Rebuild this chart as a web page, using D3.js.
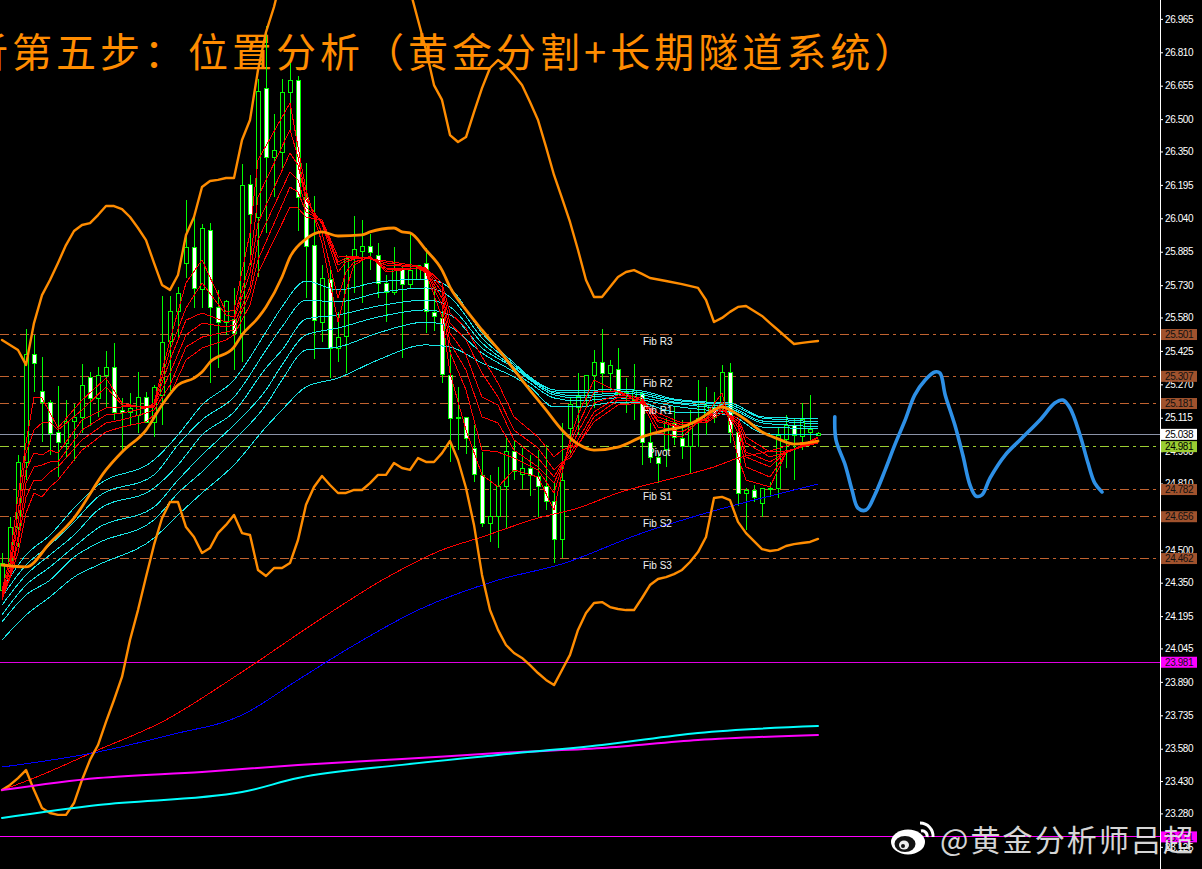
<!DOCTYPE html>
<html><head><meta charset="utf-8">
<style>html,body{margin:0;padding:0;background:#000;overflow:hidden}svg{display:block}</style>
<script src="https://cdnjs.cloudflare.com/ajax/libs/d3/7.8.5/d3.min.js"></script>
</head><body><svg id="c" width="1202" height="869"></svg>
<script>
const titleText = "析第五步：位置分析（黄金分割+长期隧道系统）";
const watermarkText = "@黄金分析师吕超";
const tickValues = [26.965,26.81,26.655,26.5,26.35,26.195,26.04,25.885,25.73,25.58,25.425,25.27,25.115,24.96,24.81,24.655,24.5,24.35,24.195,24.045,23.89,23.735,23.58,23.43,23.28,23.125];
// candle top / bottom of body, highs, lows, direction (1 = up: hollow, 0 = down: white)
const highs = [24.488,24.655,24.942,25.526,25.499,25.397,25.197,25.262,25.197,25.179,25.364,25.327,25.350,25.425,25.462,25.207,25.230,25.327,25.235,25.267,25.680,25.680,25.721,26.125,26.041,26.013,26.018,25.708,25.661,25.717,26.292,26.241,26.686,26.932,26.524,26.686,26.760,26.700,26.296,26.143,25.823,25.800,25.606,25.870,26.051,26.032,25.967,25.925,25.777,25.907,25.814,25.977,25.823,25.902,25.721,25.615,25.429,25.258,25.119,25.082,24.956,24.850,24.887,25.026,25.012,24.975,24.942,24.965,24.989,24.822,25.091,25.207,25.322,25.313,25.429,25.526,25.383,25.438,25.299,25.364,25.235,25.091,24.956,25.114,25.165,25.105,25.151,25.290,25.258,25.235,25.360,25.369,25.049,24.789,24.803,24.789,24.817,25.068,25.128,25.114,25.183,25.221,25.049];
const bodyTops = [24.441,24.609,24.910,25.410,25.410,25.239,25.188,25.049,25.100,25.119,25.267,25.304,25.313,25.350,25.350,25.151,25.160,25.211,25.211,25.258,25.467,25.610,25.694,25.907,25.907,25.995,25.986,25.629,25.656,25.573,26.195,26.199,26.630,26.644,26.357,26.626,26.681,26.681,26.139,25.916,25.763,25.758,25.489,25.856,25.897,25.912,25.912,25.870,25.740,25.805,25.805,25.800,25.823,25.833,25.606,25.578,25.313,25.119,25.119,24.975,24.850,24.659,24.798,24.961,24.961,24.882,24.882,24.845,24.798,24.729,24.826,25.179,25.216,25.313,25.373,25.373,25.360,25.341,25.235,25.244,25.230,25.003,24.933,25.096,25.091,25.021,25.096,25.114,25.174,25.165,25.327,25.327,25.049,24.780,24.780,24.789,24.789,25.035,25.082,25.082,25.110,25.063,25.044];
const bodyBottoms = [24.316,24.441,24.609,24.910,25.369,25.188,25.044,25.003,24.998,25.100,25.119,25.207,25.207,25.313,25.142,25.142,25.142,25.128,25.096,25.096,25.221,25.471,25.610,25.833,25.717,25.712,25.629,25.559,25.559,25.508,25.508,26.060,26.046,26.324,26.324,26.348,26.626,26.139,25.912,25.568,25.559,25.438,25.438,25.494,25.865,25.888,25.884,25.740,25.698,25.698,25.735,25.735,25.758,25.610,25.587,25.318,25.114,25.114,25.021,24.854,24.627,24.627,24.659,24.798,24.868,24.854,24.850,24.798,24.729,24.553,24.553,25.068,25.165,25.211,25.313,25.322,25.322,25.230,25.221,25.197,25.003,24.933,24.905,24.970,25.026,24.984,24.984,25.096,25.114,25.119,25.183,25.049,24.766,24.766,24.748,24.720,24.785,24.789,25.017,25.035,25.031,25.049,25.035];
const lows = [24.270,24.395,24.516,24.826,25.235,25.003,24.942,24.840,24.928,24.914,25.044,25.077,25.119,25.160,25.105,24.956,25.082,25.044,25.091,25.026,25.082,25.239,25.489,25.763,25.624,25.624,25.276,25.346,25.499,25.336,25.373,25.823,25.768,25.972,26.139,26.273,26.441,25.981,25.670,25.388,25.467,25.299,25.373,25.322,25.694,25.647,25.800,25.670,25.559,25.684,25.392,25.717,25.754,25.508,25.517,25.276,24.910,24.965,24.947,24.817,24.609,24.539,24.511,24.604,24.826,24.785,24.752,24.650,24.687,24.441,24.465,24.951,25.035,25.160,25.160,25.230,25.235,25.221,25.137,25.105,24.896,24.905,24.812,24.887,24.989,24.923,24.859,24.979,25.035,25.091,25.137,24.998,24.706,24.594,24.725,24.655,24.748,24.743,24.882,24.826,24.965,24.998,25.031];
const upFlags = [1,1,1,1,0,0,0,0,1,1,1,0,1,1,0,0,1,1,0,1,1,1,1,1,0,1,0,0,1,0,1,0,1,0,1,1,1,0,0,0,1,0,1,1,1,1,0,0,0,1,0,1,1,0,0,0,0,0,0,0,0,1,1,1,0,1,0,0,0,0,1,1,1,1,1,0,1,0,1,1,0,0,0,1,0,0,1,1,1,0,1,0,0,1,0,1,1,1,1,0,1,1,1];

const upperBars = [0,2,3,4,5,6,7,8,9,10,11,12,13,14,15,16,17,18,19,20,21,22,23,24,25,26,27,28,29,30,31,32,33,34,35,36,40,44,48,50,51,52,53,54,55,56,57,58,59,60,61,62,63,64,65,66,67,68,69,70,71,72,73,74,75,76,77,78,79,80,81,83,85,87,88,89,90,91,92,93,94,95,96,97,98,99,100,101,102];
const upperValues = [25.476,25.429,25.360,25.554,25.684,25.754,25.833,25.916,25.981,26.009,26.018,26.055,26.097,26.097,26.083,26.046,25.995,25.939,25.833,25.731,25.708,25.777,25.963,26.046,26.185,26.213,26.218,26.227,26.227,26.403,26.496,26.728,26.904,27.020,27.168,27.331,27.609,27.655,27.516,27.331,27.099,26.960,26.821,26.658,26.589,26.426,26.394,26.417,26.533,26.644,26.737,26.774,26.746,26.705,26.658,26.579,26.496,26.371,26.241,26.134,26.023,25.893,25.754,25.675,25.675,25.721,25.768,25.791,25.800,25.782,25.763,25.749,25.735,25.717,25.661,25.559,25.578,25.606,25.629,25.633,25.610,25.587,25.554,25.522,25.489,25.457,25.462,25.467,25.471];
const lowerValues = [23.388,23.412,23.444,23.481,23.388,23.305,23.282,23.273,23.273,23.328,23.435,23.528,23.597,23.704,23.806,23.913,24.084,24.223,24.376,24.525,24.649,24.724,24.724,24.608,24.562,24.488,24.511,24.580,24.618,24.664,24.580,24.571,24.409,24.381,24.418,24.418,24.441,24.548,24.711,24.794,24.845,24.803,24.766,24.766,24.780,24.780,24.812,24.850,24.850,24.905,24.882,24.873,24.928,24.910,24.910,24.951,25.007,24.919,24.789,24.618,24.386,24.223,24.131,24.061,24.024,24.001,23.968,23.931,23.899,23.875,23.945,24.015,24.131,24.209,24.256,24.260,24.237,24.228,24.223,24.223,24.279,24.339,24.367,24.376,24.390,24.409,24.446,24.492,24.562,24.743,24.748,24.733,24.632,24.580,24.543,24.506,24.497,24.502,24.520,24.529,24.534,24.539,24.553];
const midBars = [0,3,6,9,13,15,18,20,22,24,25,26,29,30,32,33,35,36,38,40,42,45,46,49,50,51,53,55,56,58,60,62,65,68,70,72,74,77,80,83,85,87,89,90,91,93,95,97,99,102];
const midValues = [24.432,24.423,24.534,24.650,24.873,24.956,25.058,25.174,25.267,25.299,25.327,25.373,25.443,25.499,25.578,25.629,25.768,25.860,25.944,25.977,25.958,25.963,25.977,25.995,25.977,25.972,25.893,25.800,25.721,25.615,25.522,25.434,25.290,25.151,25.058,24.993,24.965,24.979,25.026,25.058,25.072,25.105,25.151,25.165,25.151,25.105,25.049,25.017,24.993,25.007];
const redLongBars = [0,4,12,20,30,40,48,55,60,67,72,77,84,89,92,96,99,102];
const redLongValues = [23.388,23.444,23.574,23.704,23.936,24.186,24.372,24.502,24.562,24.650,24.696,24.766,24.836,24.887,24.928,24.961,24.993,25.007];
const blueBars = [0,12,21,30,37,43,52,62,70,80,88,95,102];
const blueValues = [23.495,23.565,23.644,23.736,23.899,24.038,24.223,24.362,24.437,24.580,24.673,24.743,24.808];
const slowBars = [0,12,25,37,50,62,75,87,102];
const magentaValues = [23.388,23.444,23.472,23.505,23.532,23.560,23.583,23.620,23.644];
const cyanSlowBars = [0,12,30,37,50,62,75,87,102];
const cyanSlowValues = [23.259,23.319,23.379,23.444,23.505,23.551,23.597,23.653,23.685];

const redKnots = [0,1,2,3,4,5,6,7,10,13,15,18,19,21,23,25,28,29,31,32,36,37,38,40,42,43,44,46,48,52,53,55,56,58,60,62,64,67,69,70,71,72,74,77,80,82,85,88,90,92,93,96,98,102];
const redRibbonRows = [
[24.316,24.302,24.288,24.279,24.270,24.270],[24.465,24.432,24.409,24.386,24.377,24.372],[24.748,24.673,24.627,24.562,24.534,24.488],[24.998,24.951,24.873,24.812,24.748,24.673],
[25.211,25.058,24.951,24.887,24.826,24.766],[25.207,25.091,24.942,24.896,24.826,24.748],[25.137,25.096,24.965,24.910,24.864,24.794],[25.068,25.058,24.951,24.910,24.887,24.826],
[25.197,25.151,25.105,25.058,25.012,24.965],[25.299,25.258,25.160,25.128,25.091,25.049],[25.183,25.174,25.165,25.137,25.105,25.072],[25.160,25.165,25.165,25.160,25.137,25.096],
[25.183,25.174,25.169,25.165,25.151,25.128],[25.476,25.429,25.383,25.322,25.267,25.221],[25.740,25.624,25.568,25.499,25.443,25.383],[25.847,25.740,25.601,25.554,25.489,25.438],
[25.606,25.592,25.559,25.536,25.513,25.476],[25.615,25.582,25.568,25.545,25.522,25.499],[25.972,25.833,25.786,25.721,25.694,25.638],[26.310,26.139,26.018,25.939,25.847,25.786],
[26.575,26.450,26.343,26.255,26.185,26.092],[26.371,26.324,26.287,26.218,26.162,26.088],[26.171,26.139,26.125,26.092,26.069,26.046],[25.925,25.972,26.013,26.023,26.032,26.032],
[25.559,25.670,25.791,25.823,25.837,25.860],[25.708,25.791,25.837,25.847,25.856,25.865],[25.823,25.837,25.851,25.856,25.860,25.865],[25.865,25.860,25.860,25.856,25.856,25.851],
[25.791,25.800,25.809,25.823,25.833,25.842],[25.809,25.809,25.809,25.814,25.814,25.819],[25.786,25.791,25.795,25.800,25.805,25.809],[25.582,25.638,25.670,25.698,25.721,25.740],
[25.322,25.420,25.462,25.508,25.554,25.601],[25.058,25.244,25.336,25.406,25.476,25.531],[24.850,24.965,25.119,25.211,25.322,25.397],[24.794,24.956,25.091,25.174,25.211,25.276],
[24.873,24.928,24.965,25.012,25.058,25.119],[24.840,24.873,24.887,24.928,24.975,25.026],[24.687,24.766,24.812,24.840,24.873,24.933],[24.859,24.887,24.896,24.905,24.910,24.965],
[25.012,24.989,24.965,24.942,24.928,24.979],[25.128,25.082,25.049,25.012,24.989,24.989],[25.290,25.235,25.183,25.142,25.119,25.096],[25.235,25.239,25.221,25.211,25.197,25.174],
[25.183,25.197,25.207,25.197,25.188,25.183],[25.044,25.072,25.096,25.105,25.119,25.137],[25.026,25.049,25.068,25.072,25.082,25.091],[25.128,25.114,25.110,25.105,25.096,25.091],
[25.230,25.188,25.174,25.160,25.151,25.137],[24.933,25.044,25.072,25.086,25.100,25.114],[24.826,24.887,24.933,24.956,24.998,25.026],[24.794,24.840,24.887,24.910,24.933,24.956],
[24.951,24.951,24.956,24.956,24.956,24.961],[25.026,25.021,25.012,25.008,25.003,24.998]];
const cyanKnots = [0,3,6,9,12,19,22,25,29,33,35,38,42,47,53,56,60,64,66,69,72,77,80,84,88,91,95,98,102];
const cyanRibbonRows = [
[24.316,24.284,24.246,24.200,24.168,24.084],[24.479,24.432,24.386,24.339,24.293,24.200],[24.571,24.525,24.479,24.423,24.362,24.284],[24.696,24.632,24.571,24.516,24.469,24.376],
[24.803,24.748,24.687,24.604,24.534,24.432],[24.919,24.850,24.789,24.701,24.641,24.557],[25.035,24.989,24.896,24.826,24.766,24.664],[25.174,25.105,25.035,24.942,24.864,24.766],
[25.290,25.211,25.142,25.082,25.012,24.896],[25.513,25.429,25.346,25.244,25.174,25.072],[25.629,25.536,25.429,25.360,25.290,25.151],[25.749,25.661,25.573,25.499,25.429,25.258],
[25.708,25.652,25.592,25.531,25.443,25.299],[25.745,25.694,25.633,25.582,25.508,25.383],[25.758,25.717,25.661,25.615,25.559,25.453],[25.717,25.675,25.629,25.592,25.536,25.443],
[25.508,25.485,25.462,25.438,25.415,25.369],[25.369,25.360,25.350,25.346,25.327,25.304],[25.304,25.299,25.295,25.290,25.276,25.258],[25.244,25.235,25.230,25.221,25.207,25.165],
[25.239,25.230,25.216,25.207,25.193,25.165],[25.248,25.239,25.230,25.221,25.207,25.188],[25.239,25.230,25.221,25.207,25.197,25.183],[25.202,25.197,25.188,25.183,25.169,25.142],
[25.188,25.183,25.174,25.165,25.151,25.137],[25.183,25.174,25.165,25.156,25.142,25.128],[25.119,25.114,25.100,25.091,25.072,25.044],[25.114,25.105,25.096,25.082,25.068,25.035],
[25.110,25.096,25.086,25.072,25.063,25.035]];
const forecastBars = [104.1,104.25,105.4,106.25,107,108,109.1,110.4,111.6,112.9,114.1,115.4,116.6,117.25,117.9,119.1,120.1,121,121.75,122.5,123.5,125.4,127.25,129.75,131.6,132.6,133.5,134.75,135.75,136.6,137.5];
const forecastValues = [25.119,25.012,24.896,24.780,24.696,24.687,24.757,24.873,24.989,25.105,25.221,25.290,25.327,25.322,25.221,25.082,24.942,24.803,24.752,24.757,24.835,24.942,25.012,25.105,25.183,25.197,25.160,25.035,24.905,24.812,24.771];

const fibLevels = [25.501,25.307,25.181,24.782,24.656,24.462];
const fibNames = ["Fib R3","Fib R2","Fib R1","Fib S1","Fib S2","Fib S3"];
const bidLevel = 25.038, pivotLevel = 24.981, lowerMagenta = 23.981, bottomMagenta = 23.171;

const svg = d3.select("#c");
const x = d3.scaleLinear().domain([0,102]).range([2,818]);
const y = d3.scaleLinear().domain([27.0525,23.0221]).range([0,869]);
const AX = 1160;
svg.append("rect").attr("width",1202).attr("height",869).attr("fill","#000");

// title
svg.append("text").attr("x",-32).attr("y",67).text(titleText)
  .attr("font-family","'Noto Sans CJK SC'").attr("font-size",40).attr("letter-spacing",4).attr("fill","#ff8c00");

// level lines
const hline=(v,c,dash,w=1)=>svg.append("line").attr("x1",0).attr("x2",AX).attr("y1",Math.floor(y(v))+.5).attr("y2",Math.floor(y(v))+.5)
  .attr("stroke",c).attr("stroke-width",w).attr("stroke-dasharray",dash).attr("shape-rendering","crispEdges");
fibLevels.forEach(v=>hline(v,"#c0622f","9 4 3 4"));
hline(bidLevel,"#8b93a8",null);
hline(pivotLevel,"#9acd32","9 4 3 4");
hline(lowerMagenta,"#e000e0",null);
hline(bottomMagenta,"#ff00ff",null);

// candles
const g = svg.append("g").attr("shape-rendering","crispEdges");
d3.range(highs.length).forEach(i=>{
  const cx=Math.round(x(i));
  g.append("line").attr("x1",cx+.5).attr("x2",cx+.5).attr("y1",y(highs[i])).attr("y2",y(lows[i])).attr("stroke","#00ff00");
  const t=y(bodyTops[i]),b=y(bodyBottoms[i]);
  g.append("rect").attr("x",cx-1.5).attr("width",4).attr("y",Math.round(t)+.5).attr("height",Math.max(1,Math.round(b-t)))
   .attr("fill",upFlags[i]?"#000":"#fff").attr("stroke","#00ff00");
});

// lines
const pathOf=(bars,vals,curve)=>d3.line().x((d,i)=>x(bars[i])).y(d=>y(d)).curve(curve)(vals);
const addLine=(bars,vals,c,w,curve=d3.curveLinear,crisp=false)=>svg.append("path").attr("d",pathOf(bars,vals,curve))
  .attr("fill","none").attr("stroke",c).attr("stroke-width",w).attr("stroke-linejoin","round").attr("stroke-linecap","round")
  .attr("shape-rendering",crisp?"crispEdges":"auto");
d3.range(6).forEach(k=>addLine(cyanKnots,cyanRibbonRows.map(r=>r[k]),"#19e6e6",1,d3.curveMonotoneX,true));
addLine(redLongBars,redLongValues,"#ff0000",1,d3.curveMonotoneX,true);
addLine(blueBars,blueValues,"#0000ff",1,d3.curveMonotoneX,true);
d3.range(6).forEach(k=>addLine(redKnots,redRibbonRows.map(r=>r[k]),"#ff0000",1,d3.curveLinear,true));
addLine(upperBars,upperValues,"#ff8c00",2.4);
addLine(d3.range(lowerValues.length),lowerValues,"#ff8c00",2.4);
addLine(midBars,midValues,"#ff8c00",2.8,d3.curveMonotoneX);
addLine(slowBars,magentaValues,"#ff00ff",2,d3.curveMonotoneX);
addLine(cyanSlowBars,cyanSlowValues,"#00ffff",2,d3.curveMonotoneX);
addLine(forecastBars,forecastValues,"#2e90e6",3.6,d3.curveCatmullRom);

// fib labels
const labFont="'Liberation Sans',Arial,sans-serif";
fibLevels.forEach((v,i)=>svg.append("text").attr("x",643).attr("y",y(v)+10.5).text(fibNames[i])
  .attr("font-family",labFont).attr("font-size",10).attr("fill","#f2f2f2"));
svg.append("text").attr("x",648).attr("y",y(pivotLevel)+9).text("Pivot").attr("font-family",labFont).attr("font-size",10).attr("fill","#f2f2f2");

// axis
svg.append("rect").attr("x",AX).attr("width",42).attr("height",869).attr("fill","#000");
const axis=d3.axisRight(y).tickValues(tickValues).tickFormat(d3.format(".3f")).tickSize(3).tickPadding(2);
const ag=svg.append("g").attr("transform",`translate(${AX},0)`).call(axis);
ag.selectAll(".domain").attr("stroke","#fff").attr("d","M0.5,0V869");
ag.selectAll(".tick line").attr("stroke","#fff");
ag.selectAll(".tick text").attr("fill","#fff").attr("font-family",labFont).attr("font-size",10).attr("letter-spacing",-0.4);

// price tags
const tag=(v,bg,fg)=>{const cy=y(v);
  svg.append("rect").attr("x",1161).attr("y",cy-5.5).attr("width",36).attr("height",11).attr("fill",bg);
  svg.append("text").attr("x",1165).attr("y",cy+3.7).text(v.toFixed(3))
   .attr("font-family",labFont).attr("font-size",10).attr("letter-spacing",-0.4).attr("fill",fg);};
fibLevels.forEach(v=>tag(v,"#a0522d","#111"));
tag(bidLevel,"#fff","#000");
tag(pivotLevel,"#9acd32","#000");
tag(lowerMagenta,"#ff00ff","#111");
tag(bottomMagenta,"#ff00ff","#111");

// watermark
const wm=svg.append("g");
wm.append("ellipse").attr("cx",908).attr("cy",842).attr("rx",17).attr("ry",12.5).attr("fill","#fff");
wm.append("ellipse").attr("cx",905).attr("cy",844).attr("rx",10.5).attr("ry",8).attr("fill","#111");
wm.append("ellipse").attr("cx",904).attr("cy",845).attr("rx",5).attr("ry",4.5).attr("fill","#eee");
wm.append("circle").attr("cx",903).attr("cy",846).attr("r",2).attr("fill","#111");
wm.append("path").attr("d","M921,831a5,5 0 0 1 6,6").attr("fill","none").attr("stroke","#fff").attr("stroke-width",3);
wm.append("path").attr("d","M920,823a13,13 0 0 1 13,14").attr("fill","none").attr("stroke","#fff").attr("stroke-width",3);
wm.append("text").attr("x",940).attr("y",851).text(watermarkText).attr("font-family","'Noto Sans CJK SC'")
  .attr("font-size",30).attr("letter-spacing",2.1).attr("fill","#e8e8e8").attr("opacity",.92);
</script></body></html>
